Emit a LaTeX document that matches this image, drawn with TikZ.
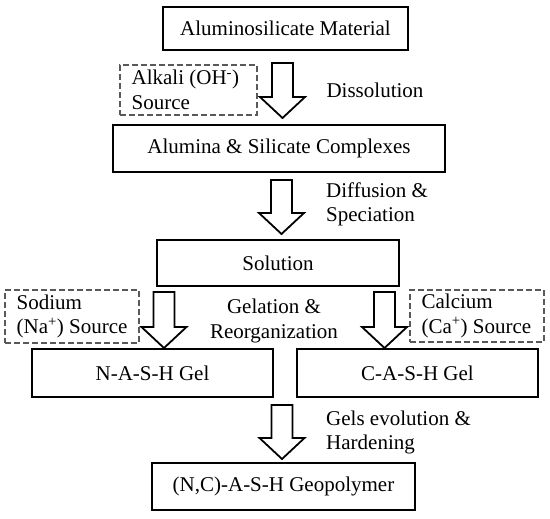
\documentclass[tikz,border=0pt]{standalone}
\usepackage{fontspec}
\setmainfont{Liberation Serif}
\newcommand\blockarr[4]{%
  \draw[arrowshape] (#1-10.5,#2) -- (#1+10.5,#2) -- (#1+10.5,#3) -- (#1+22.5,#3)
    -- (#1,#4) -- (#1-22.5,#3) -- (#1-10.5,#3) -- cycle;}
\begin{document}
\begin{tikzpicture}[x=1pt,y=-1pt,
  every node/.style={font=\fontsize{21}{24.5}\selectfont, inner sep=0pt},
  box/.style={draw, line width=1.8pt},
  srcbox/.style={draw=black!65, line width=1.2pt, dash pattern=on 6pt off 3pt},
  srctext/.style={align=left, anchor=west},
  arrowshape/.style={draw, line width=1.8pt, line join=miter, fill=white},
  lbl/.style={align=left, anchor=west}
]
\useasboundingbox (0,0) rectangle (550,519);
\fill[white] (0,0) rectangle (550,519);

% main boxes
\node[box, minimum width=245pt, minimum height=43pt] (b1) at (285.5,28.5) {Aluminosilicate Material};
\node[box, minimum width=332pt, minimum height=47pt] (b2) at (279,148.5) {Alumina \& Silicate Complexes};
\node[box, minimum width=242pt, minimum height=46pt] (sol) at (278,263) {Solution};
\node[box, minimum width=241pt, minimum height=48pt] (nash) at (152.5,373) {N-A-S-H Gel};
\node[box, minimum width=241pt, minimum height=48pt] (cash) at (417.5,373) {C-A-S-H Gel};
\node[box, minimum width=263pt, minimum height=47pt] (geo) at (283.5,486.5) {(N,C)-A-S-H Geopolymer};

% source boxes
\node[srcbox, minimum width=137pt, minimum height=50pt] (alk) at (188.5,90) {};
\node[srctext] (alkt) at ([xshift=12pt]alk.west) {Alkali (OH\textsuperscript{-})\\Source};
\node[srcbox, minimum width=134pt, minimum height=53pt] (sod) at (72,316.5) {};
\node[srctext] (sodt) at ([xshift=12pt]sod.west) {Sodium\\(Na\textsuperscript{+}) Source};
\node[srcbox, minimum width=134pt, minimum height=52pt] (cal) at (477,316) {};
\node[srctext] (calt) at ([xshift=12pt]cal.west) {Calcium\\(Ca\textsuperscript{+}) Source};

% block arrows
\blockarr{282.5}{63}{97}{118}
\blockarr{281.5}{180}{213}{234}
\blockarr{164}{292}{327}{348}
\blockarr{384.5}{292}{327}{348}
\blockarr{282}{405}{438}{459}

% process labels
\node (dis) at (375,90) {Dissolution};
\node[lbl] (dif) at (326,204.5) {Diffusion \&\\Speciation};
\node[align=center] (gel) at (274,321) {Gelation \&\\Reorganization};
\node[lbl] (gev) at (326,432.5) {Gels evolution \&\\Hardening};
\end{tikzpicture}
\end{document}
